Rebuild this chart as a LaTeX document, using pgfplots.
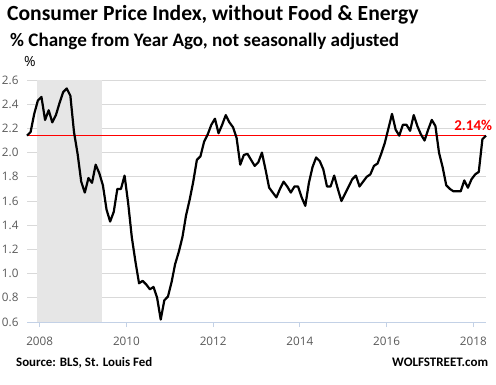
\documentclass[border=0pt]{standalone}
\usepackage{fontspec}
\setmainfont{Open Sans}
\newfontfamily\carlito{Carlito}
\usepackage{pgfplots}
\pgfplotsset{compat=1.18}
\usepackage{pgfplotstable}
\definecolor{gridgrey}{HTML}{D9D9D9}
\definecolor{axisblue}{HTML}{C3D1E6}
\definecolor{recshade}{HTML}{E6E6E6}
\definecolor{ticktext}{HTML}{595959}
\pgfplotstableread{
t v
0 2.14
1 2.17
2 2.32
3 2.43
4 2.46
5 2.27
6 2.35
7 2.25
8 2.31
9 2.41
10 2.50
11 2.53
12 2.47
13 2.17
14 1.99
15 1.76
16 1.67
17 1.79
18 1.75
19 1.90
20 1.83
21 1.73
22 1.53
23 1.43
24 1.51
25 1.70
26 1.70
27 1.81
28 1.58
29 1.30
30 1.10
31 0.92
32 0.94
33 0.91
34 0.87
35 0.89
36 0.80
37 0.62
38 0.78
39 0.81
40 0.93
41 1.08
42 1.18
43 1.30
44 1.48
45 1.61
46 1.76
47 1.94
48 1.97
49 2.09
50 2.15
51 2.23
52 2.28
53 2.16
54 2.23
55 2.31
56 2.25
57 2.21
58 2.12
59 1.90
60 1.98
61 1.99
62 1.94
63 1.89
64 1.92
65 2.00
66 1.86
67 1.71
68 1.67
69 1.63
70 1.70
71 1.76
72 1.72
73 1.67
74 1.72
75 1.72
76 1.63
77 1.56
78 1.75
79 1.88
80 1.96
81 1.93
82 1.86
83 1.72
84 1.72
85 1.81
86 1.70
87 1.60
88 1.66
89 1.72
90 1.78
91 1.81
92 1.72
93 1.76
94 1.80
95 1.82
96 1.89
97 1.91
98 1.99
99 2.08
100 2.20
101 2.32
102 2.19
103 2.14
104 2.23
105 2.23
106 2.18
107 2.31
108 2.22
109 2.15
110 2.10
111 2.19
112 2.27
113 2.22
114 2.00
115 1.88
116 1.73
117 1.70
118 1.68
119 1.68
120 1.68
121 1.77
122 1.71
123 1.78
124 1.82
125 1.84
126 2.11
127 2.14
}\cpidata
\begin{document}
\begin{tikzpicture}[x=1pt,y=1pt]
\path[use as bounding box] (0,0) rectangle (496,384);
\begin{axis}[
  at={(27pt,62pt)}, anchor=south west,
  scale only axis, width=459pt, height=242pt,
  xmin=0, xmax=127, ymin=0.6, ymax=2.6,
  axis x line*=bottom, axis y line*=left,
  x axis line style={draw=axisblue, line width=1pt},
  y axis line style={draw=none},
  xtick={3.5,27.5,51.5,75.5,99.5,123.5},
  xticklabels={2008,2010,2012,2014,2016,2018},
  ytick={0.6,0.8,1.0,1.2,1.4,1.6,1.8,2.0,2.2,2.4,2.6},
  tick align=outside, major tick length=5pt,
  xtick style={draw=axisblue, line width=1pt},
  ytick style={draw=none},
  ymajorgrids, grid style={draw=gridgrey, line width=0.9pt},
  yticklabel style={/pgf/number format/.cd, fixed, fixed zerofill, precision=1, assume math mode=true},
  ticklabel style={font=\fontsize{11.7}{14}\selectfont\color{ticktext}},
  xticklabel style={yshift=-6pt},
  clip=false,
]
\addplot[fill=recshade, draw=none, mark=none] coordinates {(2.75,0.6) (2.75,2.6) (20.7,2.6) (20.7,0.6)};
\addplot[draw=red, line width=1.3pt, mark=none, sharp plot] coordinates {(0,2.14) (127,2.14)};
\addplot[draw=black, line width=2.2pt, line join=round, mark=none, sharp plot] table[x=t, y=v] {\cpidata};
\end{axis}
\node[anchor=base west, inner sep=0] at (7,363.3) {\carlito\bfseries\fontsize{21.6}{25}\selectfont Consumer Price Index, without Food \& Energy};
\node[anchor=base west, inner sep=0] at (10,337.3) {\carlito\bfseries\fontsize{19.1}{23}\selectfont \% Change from Year Ago, not seasonally adjusted};
\node[anchor=base west, inner sep=0] at (24,317) {\fontsize{14}{16}\selectfont \%};
\node[anchor=base east, inner sep=0, text=red] at (492.3,254) {\carlito\bfseries\fontsize{15}{18}\selectfont 2.14\%};
\node[anchor=base west, inner sep=0] at (16,18) {\carlito\bfseries\fontsize{12.9}{15}\selectfont Source: BLS, St. Louis Fed};
\node[anchor=base east, inner sep=0] at (488.3,18) {\carlito\bfseries\fontsize{13}{15}\selectfont WOLFSTREET.com};
\end{tikzpicture}
\end{document}
